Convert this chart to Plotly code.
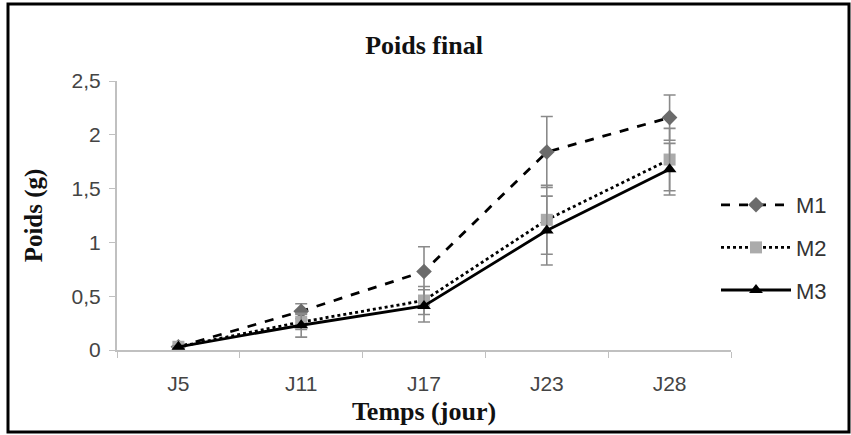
import plotly.graph_objects as go

categories = ["J5", "J11", "J17", "J23", "J28"]
m1 = [0.03, 0.36, 0.73, 1.84, 2.16]
m1_err = [0.01, 0.07, 0.23, 0.33, 0.21]
m2 = [0.03, 0.26, 0.46, 1.21, 1.77]
m2_err = [0.01, 0.07, 0.13, 0.32, 0.29]
m3 = [0.03, 0.23, 0.41, 1.11, 1.68]
m3_err = [0.01, 0.11, 0.15, 0.32, 0.24]
y_ticks = [0, 0.5, 1, 1.5, 2, 2.5]
y_tick_labels = ["0", "0,5", "1", "1,5", "2", "2,5"]

fig = go.Figure()

def add(name, vals, errs, dash, sym, mcolor, group):
    fig.add_trace(go.Scatter(
        x=categories, y=vals, name=name, mode="lines+markers",
        legendgroup=group,
        line=dict(color="black", width=2.8, dash=dash),
        marker=dict(symbol=sym, size=12, color=mcolor,
                    line=dict(color=mcolor, width=0)),
        error_y=dict(type="data", array=errs, visible=True,
                     color="#8a8a8a", thickness=1.6, width=6),
    ))

add("M1", m1, m1_err, "dash", "diamond", "#6b6b6b", "g1")
add("M2", m2, m2_err, "dot", "square", "#ababab", "g2")
add("M3", m3, m3_err, "solid", "triangle-up", "black", "g3")

L, R, T, B = 117, 851 - 731, 81, 435 - 350
pw, ph = 731 - L, 350 - T

def px(x):
    return (x - L) / pw

def py(y):
    return (350 - y) / ph

fig.update_layout(
    width=851, height=435,
    margin=dict(l=L, r=R, t=T, b=B),
    paper_bgcolor="white", plot_bgcolor="white",
    title=dict(text="<b>Poids final</b>", x=px(424), xref="paper",
               xanchor="center", y=1 - 45 / 435, yanchor="middle",
               font=dict(family="Liberation Serif", size=26, color="#111")),
    showlegend=True,
    legend=dict(x=px(716), y=py(184), xanchor="left", yanchor="top",
                font=dict(family="Liberation Sans", size=22, color="#333"),
                itemwidth=70, tracegroupgap=11, bgcolor="rgba(0,0,0,0)"),
    font=dict(family="Liberation Sans", color="#444"),
)

fig.update_xaxes(
    type="category", showline=True, linecolor="#c0c0c0", linewidth=2,
    ticks="outside", tickcolor="#c0c0c0", ticklen=6, tickson="boundaries",
    ticklabelstandoff=14,
    showgrid=False, tickfont=dict(family="Liberation Sans", size=21, color="#444"),
    title=dict(text="<b>Temps (jour)</b>", standoff=8,
               font=dict(family="Liberation Serif", size=26, color="#111")),
    range=[-0.5, 4.5],
)
fig.update_yaxes(
    range=[0, 2.5], tickvals=y_ticks, ticktext=y_tick_labels,
    showline=True, linecolor="#c0c0c0", linewidth=2,
    ticks="outside", tickcolor="#c0c0c0", ticklen=6,
    ticklabelstandoff=4,
    showgrid=False, zeroline=False,
    tickfont=dict(family="Liberation Sans", size=21, color="#444"),
    title=dict(text="<b>Poids (g)</b>", standoff=22,
               font=dict(family="Liberation Serif", size=25, color="#111")),
)

# outer frame around the whole chart
fig.add_shape(type="rect", xref="paper", yref="paper",
              x0=px(8), x1=px(849), y0=py(432), y1=py(4),
              line=dict(color="black", width=3), fillcolor="rgba(0,0,0,0)",
              layer="below")

fig.write_html("out.html")
